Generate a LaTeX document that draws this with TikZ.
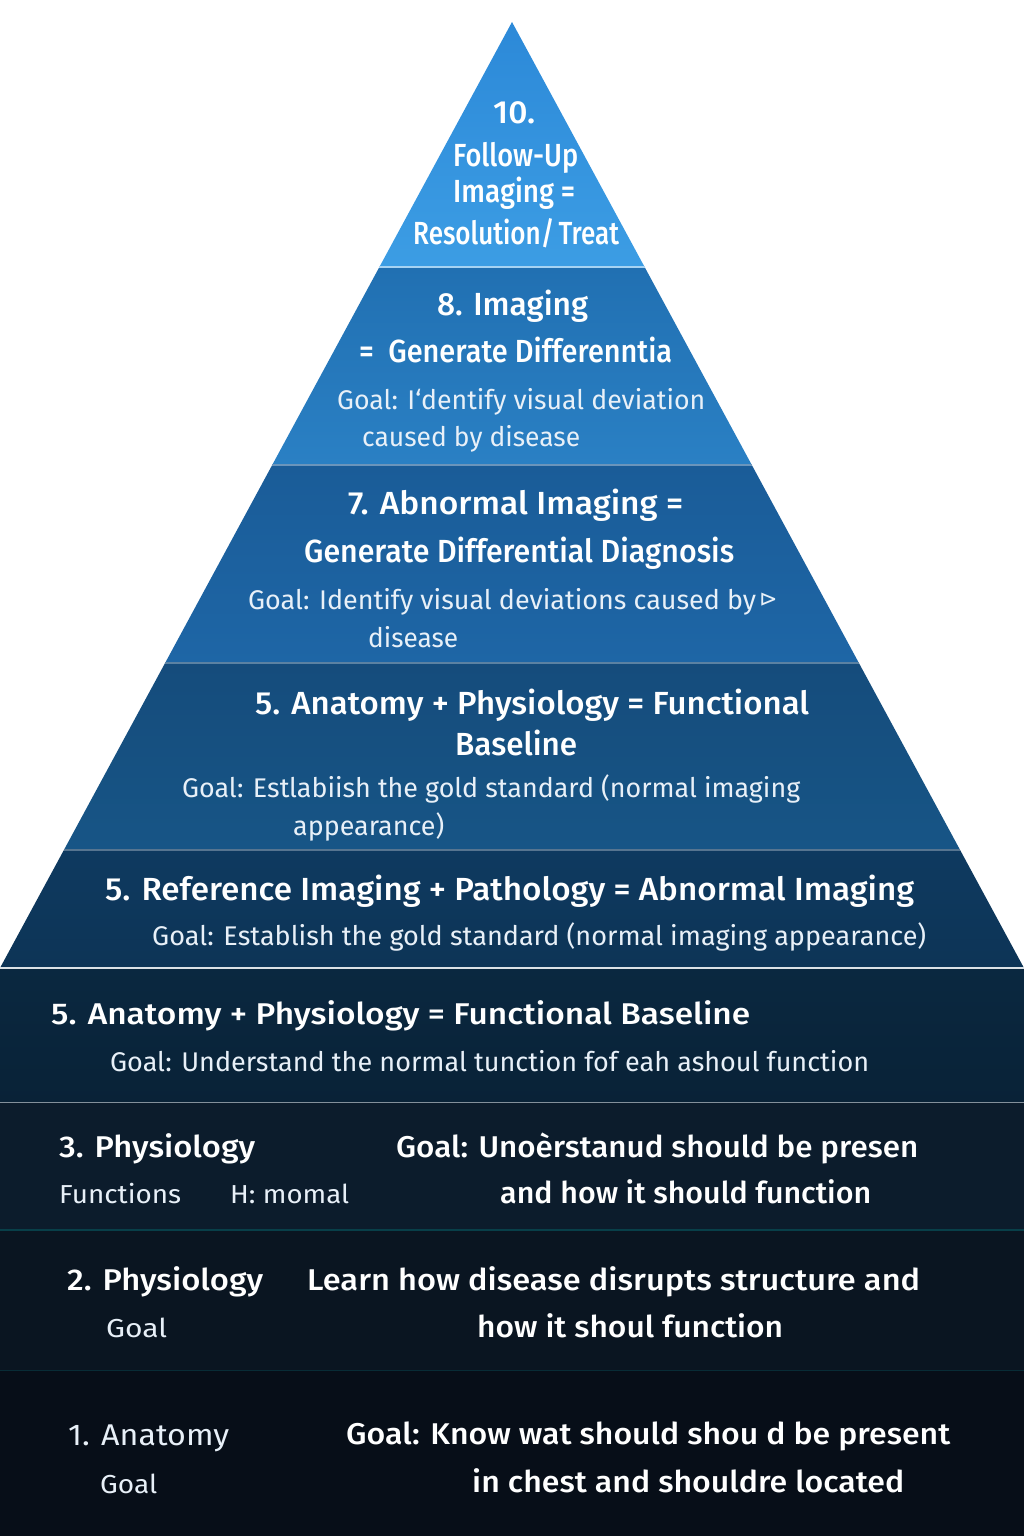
\documentclass[tikz,border=0pt]{standalone}
\usepackage{fontspec}
\usepackage{graphicx}
\setmainfont{Fira Sans}
\newfontfamily\medfont{Fira Sans Medium}
\newfontfamily\symfont{DejaVu Sans}

% stretch or squeeze a text horizontally to a given width (in pt)
\newcommand{\wbox}[2]{\resizebox{#1pt}{\height}{#2}}

\definecolor{bandA1}{HTML}{2C89D8}
\definecolor{bandA2}{HTML}{3C9DE4}
\definecolor{bandB1}{HTML}{2170B2}
\definecolor{bandB2}{HTML}{2A80C4}
\definecolor{bandC1}{HTML}{1A5C98}
\definecolor{bandC2}{HTML}{1E66A6}
\definecolor{bandD1}{HTML}{154C7C}
\definecolor{bandD2}{HTML}{175586}
\definecolor{bandE1}{HTML}{0E3A60}
\definecolor{bandE2}{HTML}{0D3456}
\definecolor{rowF1}{HTML}{0A2840}
\definecolor{rowF2}{HTML}{092237}
\definecolor{rowG}{HTML}{0C1C2C}
\definecolor{rowH}{HTML}{0A1521}
\definecolor{rowI}{HTML}{070E18}
\definecolor{goaltext}{HTML}{E8F0F8}

\tikzset{
  ttl/.style={text=white, inner sep=0pt, anchor=base west,
    font=\medfont\fontsize{32}{34}\selectfont},
  ttlsm/.style={ttl, font=\medfont\fontsize{30}{32}\selectfont},
  goal/.style={text=goaltext, inner sep=0pt, anchor=base west,
    font=\fontsize{27}{29}\selectfont},
  goalsm/.style={goal, font=\fontsize{26}{28}\selectfont},
  sepline/.style={draw=#1, line width=1.2pt},
}

\begin{document}
\begin{tikzpicture}[x=1pt,y=-1pt]
\useasboundingbox (0,0) rectangle (1024,1536);
\fill[white] (0,0) rectangle (1024,1536);

% pyramid tiers, apex at (512,22), base at y=968
\shade[top color=bandA1, bottom color=bandA2] (512,22) -- (644.6,267) -- (379.4,267) -- cycle;
\shade[top color=bandB1, bottom color=bandB2] (379.4,267) -- (644.6,267) -- (751.8,465) -- (272.2,465) -- cycle;
\shade[top color=bandC1, bottom color=bandC2] (272.2,465) -- (751.8,465) -- (858.9,663) -- (165.1,663) -- cycle;
\shade[top color=bandD1, bottom color=bandD2] (165.1,663) -- (858.9,663) -- (960.1,850) -- (63.9,850) -- cycle;
\shade[top color=bandE1, bottom color=bandE2] (63.9,850) -- (960.1,850) -- (1024,968) -- (0,968) -- cycle;

% full-width base rows
\shade[top color=rowF1, bottom color=rowF2] (0,968) rectangle (1024,1102);
\fill[rowG] (0,1102) rectangle (1024,1230);
\fill[rowH] (0,1230) rectangle (1024,1370);
\fill[rowI] (0,1370) rectangle (1024,1536);

% tier separators
\draw[sepline=white!55!bandA2] (379.4,267) -- (644.6,267);
\draw[sepline=white!35!bandC1] (272.2,465) -- (751.8,465);
\draw[sepline=white!30!bandD1] (165.1,663) -- (858.9,663);
\draw[sepline=white!30!bandE1] (63.9,850) -- (960.1,850);
\draw[sepline=white!85!bandE2] (0,968) -- (1024,968);
\draw[sepline=white!50!rowF2, line width=1pt] (0,1102) -- (1024,1102);
\draw[sepline=teal!35!rowG, line width=1.5pt] (0,1230) -- (1024,1230);
\draw[sepline=teal!22!rowH, line width=1pt] (0,1370) -- (1024,1370);

% tier 10
\node[ttl] (t10a) at (493,124) {\wbox{42}{10.}};
\node[ttl] (t10b) at (453,166) {\wbox{125}{Follow-Up}};
\node[ttl] (t10c) at (453,202) {\wbox{122}{Imaging =}};
\node[ttl] (t10d) at (413,244) {\wbox{206}{Resolution/\,Treat}};

% tier 8
\node[ttl] (t8a) at (437,315) {\wbox{151}{8. Imaging}};
\node[ttl] (t8b) at (359,362) {\wbox{313}{=\ \ Generate Differenntia}};
\node[goal] (t8c) at (337,409) {\wbox{368}{Goal: I‘dentify visual deviation}};
\node[goal] (t8d) at (362,446) {\wbox{218}{caused by disease}};

% tier 7
\node[ttl] (t7a) at (348,514) {\wbox{335}{7. Abnormal Imaging =}};
\node[ttl] (t7b) at (304,562) {\wbox{430}{Generate Differential Diagnosis}};
\node[goal] (t7c) at (248,609) {\wbox{508}{Goal: Identify visual deviations caused by}};
\node[text=goaltext, inner sep=0pt, anchor=base west, font=\symfont\fontsize{22}{24}\selectfont] (t7m) at (759,606) {⊳};
\node[goal] (t7d) at (368,647) {\wbox{90}{disease}};

% tier 5 (upper)
\node[ttl] (t5a) at (255,714) {\wbox{554}{5. Anatomy + Physiology = Functional}};
\node[ttl] (t5b) at (455,755) {\wbox{122}{Baseline}};
\node[goal] (t5c) at (182,797) {\wbox{618}{Goal: Estlabiish the gold standard (normal imaging}};
\node[goal] (t5d) at (293,835) {\wbox{151}{appearance)}};

% tier 5 (base of pyramid)
\node[ttl] (t5e) at (105,900) {\wbox{809}{5. Reference Imaging + Pathology = Abnormal Imaging}};
\node[goal] (t5f) at (152,945) {\wbox{774}{Goal: Establish the gold standard (normal imaging appearance)}};

% row: functional baseline
\node[ttlsm] (r5a) at (51,1024) {\wbox{699}{5. Anatomy + Physiology = Functional Baseline}};
\node[goal] (r5b) at (110,1071) {\wbox{759}{Goal: Understand the normal tunction fof eah ashoul function}};

% row: physiology 3
\node[ttlsm] (r3a) at (59,1157) {\wbox{196}{3. Physiology}};
\node[goalsm] (r3b) at (59,1203) {\wbox{122}{Functions}};
\node[goalsm] (r3c) at (230,1203) {\wbox{119}{H: momal}};
\node[ttlsm] (r3d) at (396,1157) {\wbox{522}{Goal: Unoèrstanud should be presen}};
\node[ttlsm] (r3e) at (500,1203) {\wbox{371}{and how it should function}};

% row: physiology 2
\node[ttlsm] (r2a) at (67,1290) {\wbox{196}{2. Physiology}};
\node[goalsm] (r2b) at (106,1337) {\wbox{61}{Goal}};
\node[ttlsm] (r2c) at (307,1290) {\wbox{613}{Learn how disease disrupts structure and}};
\node[ttlsm] (r2d) at (477,1337) {\wbox{306}{how it shoul function}};

% row: anatomy 1
\node[goal, font=\fontsize{30}{32}\selectfont] (r1a) at (68,1445) {\wbox{161}{1. Anatomy}};
\node[goalsm] (r1b) at (100,1493) {\wbox{57}{Goal}};
\node[ttlsm] (r1c) at (346,1444) {\wbox{604}{Goal: Know wat should shou d be present}};
\node[ttlsm] (r1d) at (472,1492) {\wbox{432}{in chest and shouldre located}};
\end{tikzpicture}
\end{document}
